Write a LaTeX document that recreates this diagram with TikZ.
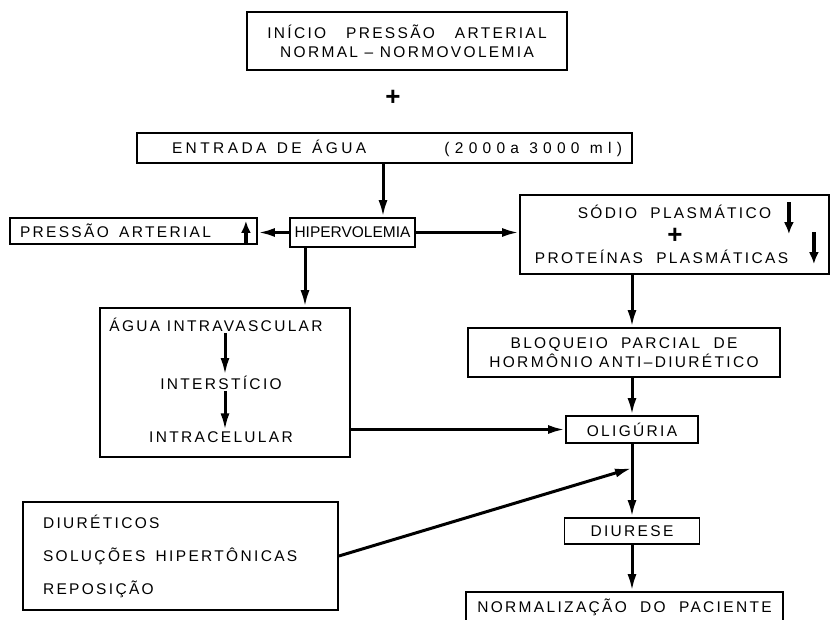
\documentclass[tikz,border=0pt]{standalone}
\usepackage{fontspec}
\setmainfont{Liberation Sans}[LetterSpace=15]
\newfontfamily\apertada{Liberation Sans}[LetterSpace=0]
\usetikzlibrary{positioning, arrows.meta, calc}
\tikzset{
    caixa/.style   = {draw, line width=1.8pt, inner sep=0pt, align=center,
                      font=\fontsize{15.5}{19}\selectfont},
    rotulo/.style  = {font=\fontsize{15.5}{19}\selectfont, inner sep=1pt},
    maisnode/.style = {font=\fontsize{26}{26}\selectfont\bfseries, inner sep=0pt},
    seta/.style    = {-{Latex[length=17pt,width=9pt]}, line width=3pt},
    setinha/.style = {-{Latex[length=12pt,width=10pt]}, line width=4pt}
}

\begin{document}
\begin{tikzpicture}[x=1pt, y=-1pt]
        \useasboundingbox (0,0) rectangle (831,620);

        % --- Topo ---
        \node[caixa, minimum width=320pt, minimum height=58pt] (inicio) at (407,41)
            {INÍCIO\ \ \ PRESSÃO\ \ \ ARTERIAL\\NORMAL\ –\ NORMOVOLEMIA};
        \node[maisnode] (mais) at (393,98) {+};
        \node[caixa, minimum width=495pt, minimum height=30pt, text width=475pt, align=left]
            (entrada) at (384.5,148)
            {\hspace*{25pt}{\addfontfeature{LetterSpace=22}ENTRADA\ \ DE\ \ ÁGUA}\hfill
             {\addfontfeature{LetterSpace=34}(2000\ a\ \ 3000\ \ ml)}\hspace*{16pt}};

        % --- Hipervolemia ---
        \node[caixa, minimum width=125pt, minimum height=29pt] (hiper) at (352.5,232.5)
            {\apertada HIPERVOLEMIA};
        \node[caixa, minimum width=247pt, minimum height=26pt, text width=227pt, align=left]
            (pressao) at (133.5,231) {PRESSÃO\ \ ARTERIAL};
        \node[caixa, minimum width=309pt, minimum height=79pt] (sodio) at (674.5,234.5)
            {SÓDIO\ \ PLASMÁTICO\\[26pt]PROTEÍNAS\ \ PLASMÁTICAS\hspace*{26pt}};
        \node[maisnode] (maisb) at (675,236) {+};

        \coordinate (pe1) at ([xshift=30.5pt]hiper.north);
        \coordinate (pe2) at ([xshift=-47.5pt]hiper.south);
        \draw[seta] (pe1 |- entrada.south) -- (pe1);
        \draw[seta] (hiper.west) -- (hiper.west -| pressao.east);
        \draw[seta] (hiper.east) -- (hiper.east -| sodio.west);

        \draw[setinha] ([xshift=-12pt,yshift=-12pt]pressao.east) -- ++(0,-22);
        \draw[setinha] ([xshift=-41pt,yshift=-8pt]sodio.north east) -- ++(0,32);
        \draw[setinha] ([xshift=-16pt,yshift=-38pt]sodio.north east) -- ++(0,32);

        % --- Agua ---
        \node[caixa, minimum width=250pt, minimum height=149pt] (agua) at (225,382.5) {};
        \node[rotulo] (a1) at (216,325) {ÁGUA\ INTRAVASCULAR};
        \node[rotulo] (a2) at (221,383) {INTERSTÍCIO};
        \node[rotulo] (a3) at (221,437) {INTRACELULAR};
        \draw[seta] (a1.south -| agua.center) -- (a2.north -| agua.center);
        \draw[seta] (a2.south -| agua.center) -- (a3.north -| agua.center);
        \draw[seta] (pe2) -- (pe2 |- agua.north);

        % --- Coluna direita ---
        \node[caixa, minimum width=312pt, minimum height=49pt] (bloqueio) at (624,352.5)
            {BLOQUEIO\ \ PARCIAL\ \ DE\\HORMÔNIO\ ANTI–DIURÉTICO};
        \node[caixa, minimum width=132pt, minimum height=27pt] (oligu) at (632,429.5) {OLIGÚRIA};
        \node[caixa, minimum width=135pt, minimum height=26pt] (diurese) at (632,531) {DIURESE};
        \node[caixa, minimum width=317pt, minimum height=30pt] (normal) at (624.5,607)
            {NORMALIZAÇÃO\ \ DO\ \ PACIENTE};

        \draw[seta] (sodio.south -| oligu.north) -- (bloqueio.north -| oligu.north);
        \draw[seta] (bloqueio.south -| oligu.north) -- (oligu.north);
        \draw[seta] (agua.east |- oligu.west) -- (oligu.west);
        \draw[seta] (oligu.south) -- (diurese.north);
        \draw[seta] (diurese.south) -- (diurese.south |- normal.north);

        % --- Diureticos ---
        \node[caixa, minimum width=315pt, minimum height=108pt, text width=275pt, align=left]
            (diur) at (180.5,556)
            {DIURÉTICOS\\[14pt]SOLUÇÕES\ \ HIPERTÔNICAS\\[14pt]REPOSIÇÃO};
        \coordinate (junta) at ($(oligu.south)!0.33!(diurese.north)$);
        \draw[seta] (diur.east) -- (junta);
    \end{tikzpicture}
\end{document}
